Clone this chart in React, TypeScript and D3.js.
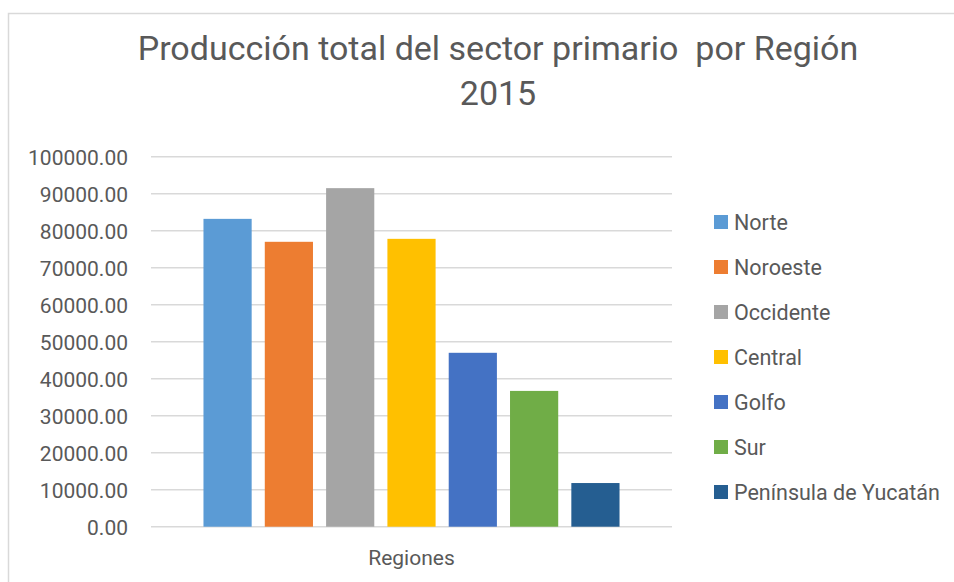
import React, { useEffect, useRef } from 'react';
import * as d3 from 'd3';

const regions = ['Norte', 'Noroeste', 'Occidente', 'Central', 'Golfo', 'Sur', 'Península de Yucatán'];
const production = [83200, 77000, 91500, 77800, 47000, 36700, 11800];
const colors = ['#5b9bd5', '#ed7d31', '#a5a5a5', '#ffc000', '#4472c4', '#70ad47', '#255e91'];
const categories = ['Regiones'];
const yTicks = [0, 10000, 20000, 30000, 40000, 50000, 60000, 70000, 80000, 90000, 100000];
const titleLines = ['Producción total del sector primario  por Región', '2015'];

const App = () => {
  const ref = useRef<SVGSVGElement | null>(null);

  useEffect(() => {
    const svg = d3.select(ref.current);
    svg.selectAll('*').remove();

    const width = 954;
    const height = 582;
    const plot = { left: 151, right: 672, top: 156.7, bottom: 526.7 };
    const textColor = '#595959';
    const font = 'Roboto, sans-serif';

    // chart frame
    svg.append('rect')
      .attr('x', 8.5).attr('y', 13.5)
      .attr('width', width).attr('height', height)
      .attr('fill', 'white')
      .attr('stroke', '#d9d9d9')
      .attr('stroke-width', 1.5);

    const y = d3.scaleLinear().domain([0, 100000]).range([plot.bottom, plot.top]);
    const x0 = d3.scaleBand().domain(categories).range([plot.left, plot.right]).padding(0.112);
    const x1 = d3.scaleBand().domain(regions)
      .range([x0(categories[0])!, x0(categories[0])! + x0.bandwidth()])
      .paddingInner(0.214).paddingOuter(0);

    // gridlines
    svg.append('g').selectAll('line')
      .data(yTicks)
      .enter()
      .append('line')
      .attr('x1', plot.left).attr('x2', plot.right)
      .attr('y1', (d) => y(d)).attr('y2', (d) => y(d))
      .attr('stroke', '#d9d9d9')
      .attr('stroke-width', 1.5);

    // y tick labels
    svg.append('g').selectAll('text')
      .data(yTicks)
      .enter()
      .append('text')
      .attr('x', 128)
      .attr('y', (d) => y(d) + 8.5)
      .attr('text-anchor', 'end')
      .attr('fill', textColor)
      .style('font-family', font)
      .style('font-size', '21px')
      .text((d) => d3.format('.2f')(d));

    // bars
    svg.append('g').selectAll('rect')
      .data(regions)
      .enter()
      .append('rect')
      .attr('x', (d) => x1(d)!)
      .attr('width', x1.bandwidth())
      .attr('y', (d, i) => y(production[i]))
      .attr('height', (d, i) => y(0) - y(production[i]))
      .attr('fill', (d, i) => colors[i]);

    // category label
    svg.append('text')
      .attr('x', x0(categories[0])! + x0.bandwidth() / 2)
      .attr('y', 565)
      .attr('text-anchor', 'middle')
      .attr('fill', textColor)
      .style('font-family', font)
      .style('font-size', '21px')
      .text(categories[0]);

    // title (two lines, keeps the double space)
    svg.append('g').selectAll('text')
      .data(titleLines)
      .enter()
      .append('text')
      .attr('x', 498)
      .attr('y', (d, i) => 60 + i * 45)
      .attr('text-anchor', 'middle')
      .attr('fill', textColor)
      .style('font-family', font)
      .style('font-size', '34px')
      .style('white-space', 'pre')
      .text((d) => d);

    // legend
    const legend = svg.append('g').selectAll('g')
      .data(regions)
      .enter()
      .append('g')
      .attr('transform', (d, i) => `translate(714,${222 + i * 45})`);

    legend.append('rect')
      .attr('x', 0).attr('y', -7)
      .attr('width', 14).attr('height', 14)
      .attr('fill', (d, i) => colors[i]);

    legend.append('text')
      .attr('x', 20)
      .attr('y', 8)
      .attr('fill', textColor)
      .style('font-family', font)
      .style('font-size', '21.5px')
      .text((d) => d);
  }, []);

  return (
    <svg
      ref={ref}
      width={954}
      height={582}
      style={{ position: 'absolute', left: 0, top: 0, background: 'white' }}
    />
  );
};

export default App;
